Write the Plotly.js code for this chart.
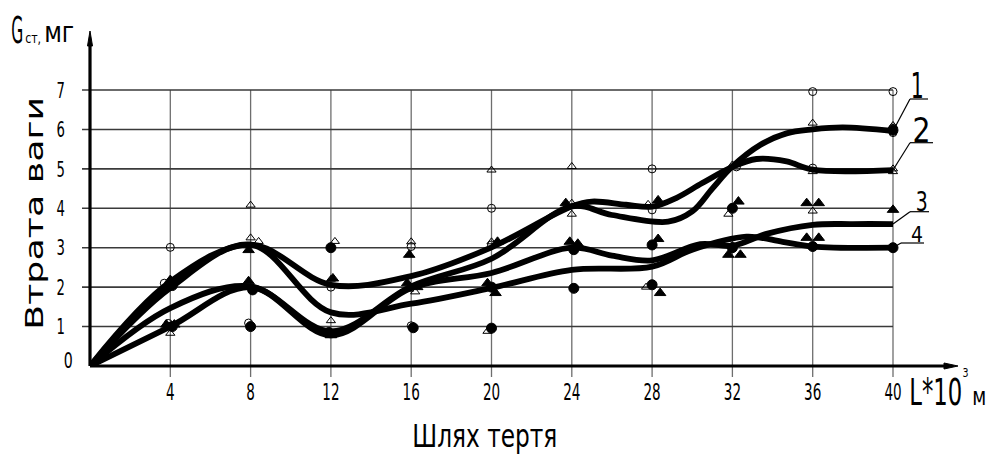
<!DOCTYPE html>
<html>
<head>
<meta charset="utf-8">
<script src="https://cdn.plot.ly/plotly-3.0.1.min.js"></script>
<style>html,body{margin:0;padding:0;background:#fff}#chart{width:989px;height:454px}</style>
</head>
<body>
<div id="chart"></div>
<script>
// ---------- data ----------
const xTicks = [4, 8, 12, 16, 20, 24, 28, 32, 36, 40];
const xTickText = ['4', '8', '12', '16', '20', '24', '28', '32', '36', '40'];
const yTicks = [1, 2, 3, 4, 5, 6, 7];
const yTickText = ['1', '2', '3', '4', '5', '6', '7'];

// smoothed curves (labels 1..4)
const curve1X = [0, 4, 8, 12, 16, 20, 24, 26, 28.8, 30, 31, 32, 33.4, 34.7, 36, 37.5, 40];
const curve1Y = [0, 1.47, 2.02, 0.88, 2.02, 2.72, 4.05, 3.83, 3.66, 3.92, 4.5, 5.06, 5.61, 5.9, 6.0, 6.05, 5.96];
const curve2X = [0, 4, 8, 12, 16, 20, 24, 25, 26.7, 28, 29.2, 30.5, 32, 33.2, 34.7, 36, 40];
const curve2Y = [0, 2.14, 3.08, 2.06, 2.28, 3.01, 4.05, 4.17, 4.09, 4.04, 4.26, 4.64, 5.05, 5.25, 5.19, 4.98, 4.97];
const curve3X = [0, 4, 8, 12, 16, 20, 24, 26, 28, 30.4, 32, 33.7, 36, 38, 40];
const curve3Y = [0, 1.0, 2.0, 0.78, 1.98, 2.36, 3.0, 2.8, 2.68, 3.09, 3.05, 3.35, 3.58, 3.6, 3.6];
const curve4X = [0, 4, 8, 12, 16, 20, 24, 28, 30, 32.7, 34.5, 36, 40];
const curve4Y = [0, 1.98, 3.08, 1.36, 1.58, 1.98, 2.44, 2.52, 2.95, 3.28, 3.15, 3.03, 3.0];

// measured points
const openCircleX = [4, 3.7, 3.9, 7.9, 12, 16, 16, 20, 20, 28, 28, 32.2, 36, 36, 40, 40, 40];
const openCircleY = [3.01, 2.1, 1.08, 1.09, 2.0, 3.03, 1.02, 4.0, 3.07, 5.0, 3.96, 5.05, 6.96, 5.02, 6.96, 6.03, 5.92];
const openTriX = [4, 8, 8, 8.4, 12.2, 12, 12, 16, 15.9, 16.2, 20, 20, 19.8, 24, 24, 24, 27.8, 27.7, 32, 31.8, 32, 36, 36, 36, 40, 40, 40];
const openTriY = [0.83, 4.08, 3.25, 3.16, 3.16, 2.2, 1.15, 3.15, 1.95, 1.88, 4.97, 3.15, 0.88, 5.06, 4.13, 3.85, 4.1, 2.0, 5.1, 3.85, 3.05, 6.16, 4.93, 3.93, 6.1, 5.0, 4.93];
const fullCircleX = [4.1, 4.1, 8.1, 8, 12, 11.9, 16.1, 20, 20, 24.1, 24.1, 28, 28, 32, 32, 36, 40, 40];
const fullCircleY = [2.04, 1.0, 1.93, 1.0, 3.0, 0.85, 0.97, 2.0, 0.96, 2.95, 1.97, 3.07, 2.06, 4.0, 3.0, 3.03, 5.98, 3.0];
const fullTriX = [4, 3.8, 4.2, 7.9, 7.9, 12.1, 12, 15.9, 15.8, 16.3, 20.3, 19.8, 20.2, 23.7, 23.9, 24.3, 28.3, 28.3, 28.4, 32.3, 31.8, 32.4, 35.7, 36.3, 35.7, 36.3, 40, 40.3];
const fullTriY = [2.18, 1.05, 1.05, 2.94, 2.15, 2.22, 0.78, 2.82, 2.1, 2.0, 3.15, 2.1, 1.85, 4.13, 3.15, 3.1, 4.2, 3.22, 1.85, 4.17, 2.82, 2.82, 4.13, 4.13, 3.25, 3.25, 3.96, 2.77];

const curveLabels = ['1', '2', '3', '4'];

// ---------- fonts ----------
function hasFont(name) {
  const c = document.createElement('canvas').getContext('2d');
  const s = 'Шлях тертя L*10 0123456789 mmmWWW';
  c.font = '40px monospace';
  const w0 = c.measureText(s).width;
  c.font = '40px "' + name + '", monospace';
  return Math.abs(c.measureText(s).width - w0) > 0.5;
}
const WIDE = 'DejaVu Sans, Arial, sans-serif';
const NARROW = hasFont('Liberation Sans Narrow') ? '"Liberation Sans Narrow", DejaVu Sans, sans-serif'
  : hasFont('DejaVu Sans Condensed') ? '"DejaVu Sans Condensed", DejaVu Sans, sans-serif' : WIDE;

// ---------- drawing ----------
const X_MAX = 40, Y_MAX = 7;
const ML = 90, MR = 96, MT = 90, MB = 88, W = 989, H = 454;
const PW = W - ML - MR, PH = H - MT - MB;
const PX = p => (p - ML) / PW;          // page pixel -> paper
const PY = p => (H - MB - p) / PH;

const curves = [[curve1X, curve1Y], [curve2X, curve2Y], [curve3X, curve3Y], [curve4X, curve4Y]];
const traces = [];
curves.forEach(([x, y]) => {
  traces.push({x, y, type: 'scatter', mode: 'lines', hoverinfo: 'skip', showlegend: false,
    line: {shape: 'spline', smoothing: 1, color: '#000', width: 5.8}});
});
[[openCircleX, openCircleY, 'circle-open', 8],
 [openTriX, openTriY, 'triangle-up-open', 8],
 [fullCircleX, fullCircleY, 'circle', 10],
 [fullTriX, fullTriY, 'triangle-up', 10]].forEach(([x, y, sym, size]) => {
  traces.push({x, y, type: 'scatter', mode: 'markers', cliponaxis: false, hoverinfo: 'skip', showlegend: false,
    marker: {symbol: sym, size, color: '#000', line: {color: '#000', width: 1}}});
});

const shapes = [];
// grid + tick marks
xTicks.forEach(v => shapes.push({type: 'line', xref: 'paper', yref: 'paper', layer: 'below',
  x0: v / X_MAX, x1: v / X_MAX, y0: PY(377), y1: 1, line: {color: '#6e6e6e', width: 1.3}}));
yTicks.forEach(v => shapes.push({type: 'line', xref: 'paper', yref: 'paper', layer: 'below',
  x0: PX(82), x1: 1, y0: v / Y_MAX, y1: v / Y_MAX, line: {color: '#3a3a3a', width: 1.6}}));
// axes with arrows
shapes.push({type: 'line', xref: 'paper', yref: 'paper', x0: 0, x1: PX(948), y0: 0, y1: 0, line: {color: '#000', width: 3.2}});
shapes.push({type: 'path', xref: 'paper', yref: 'paper', fillcolor: '#000', line: {color: '#000', width: 1},
  path: `M${PX(958)},${PY(366)} L${PX(944)},${PY(363)} L${PX(944)},${PY(369)} Z`});
shapes.push({type: 'line', xref: 'paper', yref: 'paper', x0: 0, x1: 0, y0: 0, y1: PY(44), line: {color: '#000', width: 3.2}});
shapes.push({type: 'path', xref: 'paper', yref: 'paper', fillcolor: '#000', line: {color: '#000', width: 1},
  path: `M${PX(90)},${PY(31)} L${PX(87.5)},${PY(46)} L${PX(92.5)},${PY(46)} Z`});
// leader lines to curve labels
const leaderEnd = [[910, 99, 928], [910, 142.7, 933], [910, 211.7, 929], [901, 243, 924]];
curves.forEach(([x, y], i) => {
  const [ex, ey, ux] = leaderEnd[i];
  shapes.push({type: 'line', xref: 'paper', yref: 'paper', x0: x[x.length - 1] / X_MAX, y0: y[y.length - 1] / Y_MAX,
    x1: PX(ex), y1: PY(ey), line: {color: '#000', width: 1.2}});
  shapes.push({type: 'line', xref: 'paper', yref: 'paper', x0: PX(ex), y0: PY(ey), x1: PX(ux), y1: PY(ey),
    line: {color: '#000', width: 1.2}});
});

const annSpec = [
  // text, cx, cy, size, width, angle, family
  ['G', 17, 30, 38, 12, 0, NARROW],
  ['ст,', 33, 38.2, 14, 16, 0, NARROW],
  ['мг', 59, 33, 28, 30, 0, NARROW],
  ['Втрата ваги', 34.4, 213, 25, 233, -90, WIDE],
  ['Шлях тертя', 485, 435.5, 32, 145, 0, NARROW],
  ['L*10', 936, 392.2, 37, 53, 0, NARROW],
  ['3', 965.5, 372.8, 12, 6, 0, NARROW],
  ['м', 978.5, 396.7, 24, 14, 0, NARROW],
  [curveLabels[0], 918, 85.5, 36, 13, 0, NARROW],
  [curveLabels[1], 922, 130.6, 33, 18, 0, NARROW],
  [curveLabels[2], 921.5, 201.7, 27, 12, 0, NARROW],
  [curveLabels[3], 917.5, 234.7, 21, 12, 0, NARROW],
  ['0', 68.5, 360.4, 22, 9, 0, NARROW]
];
const annotations = annSpec.map(([text, cx, cy, size, w, ang, fam]) => ({
  text, xref: 'paper', yref: 'paper', x: PX(cx), y: PY(cy), xanchor: 'center', yanchor: 'middle',
  showarrow: false, textangle: ang, borderpad: 0, font: {family: fam, size, color: '#000'}
}));

const layout = {
  width: W, height: H,
  margin: {l: ML, r: MR, t: MT, b: MB, pad: 0},
  paper_bgcolor: '#fff', plot_bgcolor: '#fff',
  showlegend: false,
  font: {family: NARROW, color: '#000'},
  xaxis: {range: [0, X_MAX], tickmode: 'array', tickvals: xTicks, ticktext: xTickText,
    showgrid: false, zeroline: false, showline: false, ticks: '', ticklabelstandoff: 10,
    tickfont: {family: NARROW, size: 23, color: '#000'}, fixedrange: true},
  yaxis: {range: [0, Y_MAX], tickmode: 'array', tickvals: yTicks, ticktext: yTickText,
    showgrid: false, zeroline: false, showline: false, ticks: '', ticklabelstandoff: 24,
    tickfont: {family: NARROW, size: 22, color: '#000'}, fixedrange: true},
  shapes, annotations
};

Plotly.newPlot('chart', traces, layout, {staticPlot: true, displayModeBar: false}).then(() => {
  const fit = (el, w) => { el.setAttribute('textLength', w); el.setAttribute('lengthAdjust', 'spacingAndGlyphs'); };
  document.querySelectorAll('.xtick text').forEach(t => fit(t, t.textContent.length * 8.6));
  document.querySelectorAll('.ytick text').forEach(t => fit(t, t.textContent.length * 8.4));
  annSpec.forEach((a, i) => {
    const t = document.querySelector('.annotation[data-index="' + i + '"] text.annotation-text');
    if (t) fit(t, a[4]);
  });
});
</script>
</body>
</html>
